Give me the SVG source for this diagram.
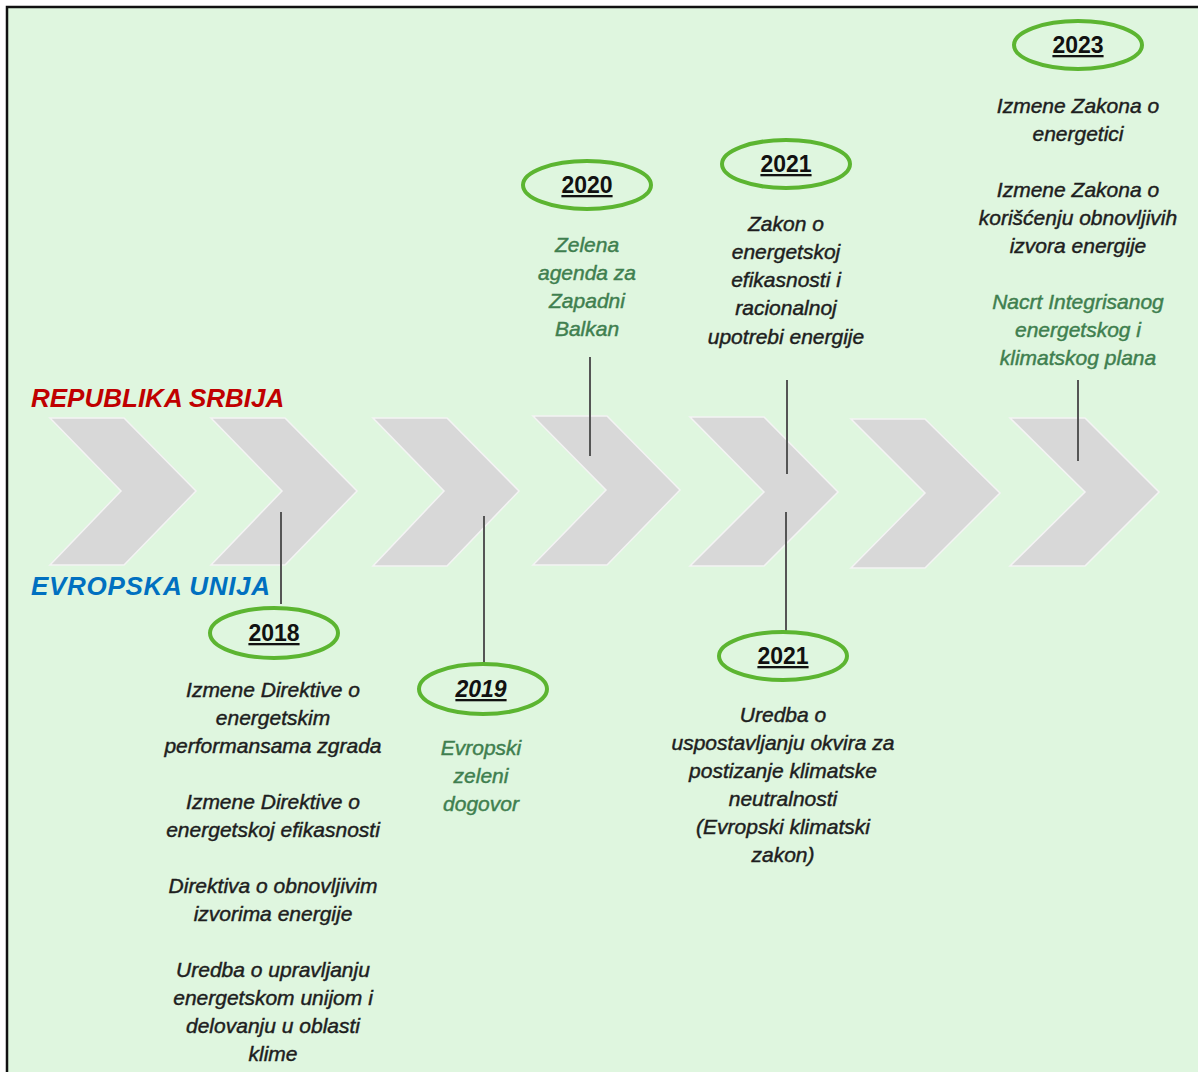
<svg xmlns="http://www.w3.org/2000/svg" width="1198" height="1072" viewBox="0 0 1198 1072">
<defs>
<style>
.bg{fill:#dff6df;stroke:#111;stroke-width:2.5}
.chev{fill:#d8d8d8;stroke:#f4f4f4;stroke-width:1.5}
.yr{fill:none;stroke:#5cb531;stroke-width:4}
.yt{font-family:"Liberation Sans",Arial,sans-serif;font-weight:bold;font-size:23px;fill:#111;text-anchor:middle;text-decoration:underline}
.t{font-family:"Liberation Sans",Arial,sans-serif;font-style:italic;font-size:21px;fill:#1e1e1e;stroke:#1e1e1e;stroke-width:0.45;text-anchor:middle}
.g{fill:#3f7f4f;stroke:#3f7f4f}
.ln{stroke:#555;stroke-width:2}
.hdr{font-family:"Liberation Sans",Arial,sans-serif;font-style:italic;font-weight:bold;font-size:26px}
</style>
</defs>
<rect x="7" y="7" width="1200" height="1080" class="bg"/>
<g id="chevrons">
<path class="chev" d="M50,418 L124,418 L196,491 L124,565 L50,565 L121,491 Z"/>
<path class="chev" d="M211,418 L285,418 L357,491 L285,565 L211,565 L282,491 Z"/>
<path class="chev" d="M373,418 L447,418 L519,491 L447,566 L373,566 L444,491 Z"/>
<path class="chev" d="M533,416 L607,416 L680,490 L607,565 L533,565 L606,490 Z"/>
<path class="chev" d="M690,417 L764,417 L838,492 L764,566 L690,566 L764,492 Z"/>
<path class="chev" d="M851,419 L925,419 L1000,493 L925,568 L851,568 L925,493 Z"/>
<path class="chev" d="M1010,418 L1085,418 L1159,492 L1085,566 L1010,566 L1085,492 Z"/>
</g>
<text id="rs" class="hdr" x="31" y="407" fill="#c00000">REPUBLIKA SRBIJA</text>
<text id="eu" class="hdr" x="31" y="595" fill="#0070c0" textLength="239">EVROPSKA UNIJA</text>
<g id="connectors">
<line class="ln" x1="281" y1="512" x2="281" y2="604"/>
<line class="ln" x1="484" y1="516" x2="484" y2="664"/>
<line class="ln" x1="590" y1="357" x2="590" y2="456"/>
<line class="ln" x1="787" y1="380" x2="787" y2="474"/>
<line class="ln" x1="786" y1="512" x2="786" y2="632"/>
<line class="ln" x1="1078" y1="380" x2="1078" y2="461"/>
</g>
<g id="y2023">
<ellipse class="yr" cx="1078" cy="45" rx="64" ry="24"/>
<text class="yt" x="1078" y="53">2023</text>
<text class="t" x="1078" y="113">Izmene Zakona o</text>
<text class="t" x="1078" y="141">energetici</text>
<text class="t" x="1078" y="197">Izmene Zakona o</text>
<text class="t" x="1078" y="225">korišćenju obnovljivih</text>
<text class="t" x="1078" y="253">izvora energije</text>
<text class="t g" x="1078" y="309">Nacrt Integrisanog</text>
<text class="t g" x="1078" y="337">energetskog i</text>
<text class="t g" x="1078" y="365">klimatskog plana</text>
</g>
<g id="y2021a">
<ellipse class="yr" cx="786" cy="164" rx="64" ry="24"/>
<text class="yt" x="786" y="172">2021</text>
<text class="t" x="786" y="231">Zakon o</text>
<text class="t" x="786" y="259">energetskoj</text>
<text class="t" x="786" y="287">efikasnosti i</text>
<text class="t" x="786" y="315">racionalnoj</text>
<text class="t" x="786" y="344">upotrebi energije</text>
</g>
<g id="y2020">
<ellipse class="yr" cx="587" cy="185" rx="64" ry="24"/>
<text class="yt" x="587" y="193">2020</text>
<text class="t g" x="587" y="252">Zelena</text>
<text class="t g" x="587" y="280">agenda za</text>
<text class="t g" x="587" y="308">Zapadni</text>
<text class="t g" x="587" y="336">Balkan</text>
</g>
<g id="y2018">
<ellipse class="yr" cx="274" cy="633" rx="64" ry="25"/>
<text class="yt" x="274" y="641">2018</text>
<text class="t" x="273" y="697">Izmene Direktive o</text>
<text class="t" x="273" y="725">energetskim</text>
<text class="t" x="273" y="753">performansama zgrada</text>
<text class="t" x="273" y="809">Izmene Direktive o</text>
<text class="t" x="273" y="837">energetskoj efikasnosti</text>
<text class="t" x="273" y="893">Direktiva o obnovljivim</text>
<text class="t" x="273" y="921">izvorima energije</text>
<text class="t" x="273" y="977">Uredba o upravljanju</text>
<text class="t" x="273" y="1005">energetskom unijom i</text>
<text class="t" x="273" y="1033">delovanju u oblasti</text>
<text class="t" x="273" y="1061">klime</text>
</g>
<g id="y2019">
<ellipse class="yr" cx="483" cy="689" rx="64" ry="25"/>
<text class="yt" x="481" y="697" font-style="italic">2019</text>
<text class="t g" x="481" y="755">Evropski</text>
<text class="t g" x="481" y="783">zeleni</text>
<text class="t g" x="481" y="811">dogovor</text>
</g>
<g id="y2021b">
<ellipse class="yr" cx="783" cy="656" rx="64" ry="24"/>
<text class="yt" x="783" y="664">2021</text>
<text class="t" x="783" y="722">Uredba o</text>
<text class="t" x="783" y="750">uspostavljanju okvira za</text>
<text class="t" x="783" y="778">postizanje klimatske</text>
<text class="t" x="783" y="806">neutralnosti</text>
<text class="t" x="783" y="834">(Evropski klimatski</text>
<text class="t" x="783" y="862">zakon)</text>
</g>
</svg>
